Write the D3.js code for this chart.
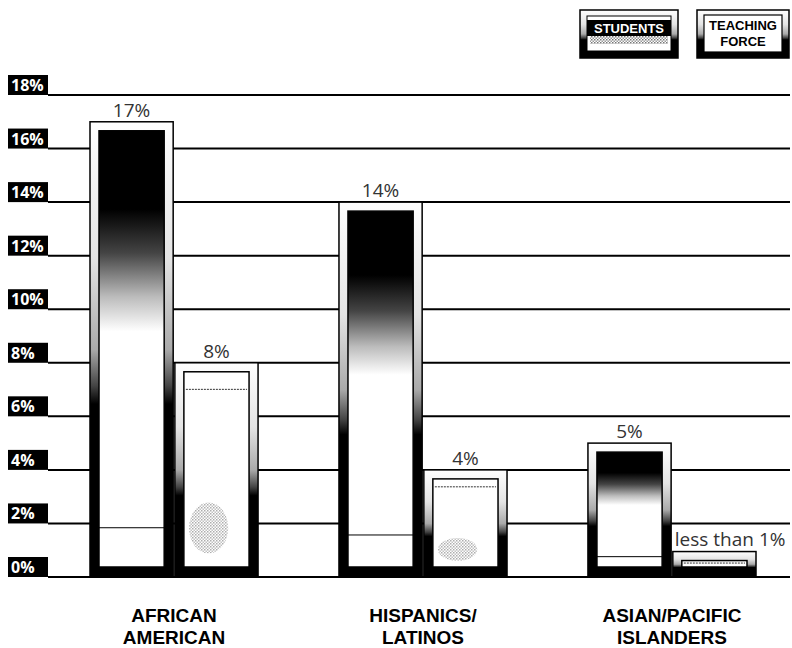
<!DOCTYPE html>
<html>
<head>
<style>
  body { margin: 0; background: #fff; }
  svg { display: block; }
  text { font-family: "Open Sans", "DejaVu Sans", sans-serif; }
</style>
</head>
<body>
<svg></svg>
<script src="https://cdnjs.cloudflare.com/ajax/libs/d3/7.8.5/d3.min.js"></script>
<script>
// data
const categories = [["AFRICAN", "AMERICAN"], ["HISPANICS/", "LATINOS"], ["ASIAN/PACIFIC", "ISLANDERS"]];
const studentValues = [17, 14, 5];
const teacherValues = [8, 4, 0.95];
const studentLabels = ["17%", "14%", "5%"];
const teacherLabels = ["8%", "4%", "less than 1%"];
const tickValues = [0, 2, 4, 6, 8, 10, 12, 14, 16, 18];
const series = ["students", "teachers"];

const width = 792, height = 648;
const svg = d3.select("svg").attr("width", width).attr("height", height);
const boldFont = "'Liberation Sans', Arial, sans-serif";

const y = d3.scaleLinear().domain([0, 18]).range([577, 95]);
const x = d3.scaleBand().domain(d3.range(categories.length)).range([90, 756]).paddingInner(0.325).paddingOuter(0);
const xs = d3.scaleBand().domain(series).range([0, x.bandwidth()]).paddingInner(0.02);

const defs = svg.append("defs");

function grad(id, stops) {
  const g = defs.append("linearGradient").attr("id", id)
    .attr("x1", 0).attr("y1", 0).attr("x2", 0).attr("y2", 1);
  stops.forEach(s => g.append("stop").attr("offset", s[0]).attr("stop-color", s[1]));
}
grad("frame", [[0, "#fff"], [0.3, "#e4e4e4"], [0.5, "#aaa"], [0.58, "#444"], [0.62, "#000"], [1, "#000"]]);
grad("studentInner", [[0, "#000"], [0.18, "#000"], [0.28, "#444"], [0.38, "#bbb"], [0.46, "#fff"], [1, "#fff"]]);

// speckle pattern for the grey blobs
const pat = defs.append("pattern").attr("id", "speckle")
  .attr("width", 3).attr("height", 3).attr("patternUnits", "userSpaceOnUse");
pat.append("rect").attr("width", 1.5).attr("height", 1.5).attr("fill", "#777");
pat.append("rect").attr("x", 1.5).attr("y", 1.5).attr("width", 1.5).attr("height", 1.5).attr("fill", "#999");

// grid lines and tick boxes
const grid = svg.append("g");
grid.selectAll("line").data(tickValues).join("line")
  .attr("x1", 48).attr("x2", 790)
  .attr("y1", d => y(d)).attr("y2", d => y(d))
  .attr("stroke", "#000").attr("stroke-width", 2);
grid.selectAll("rect").data(tickValues).join("rect")
  .attr("x", 8).attr("width", 40)
  .attr("y", d => y(d) - 20).attr("height", 20)
  .attr("fill", "#000");
grid.selectAll("text").data(tickValues).join("text")
  .attr("x", 11).attr("y", d => y(d) - 4)
  .attr("fill", "#fff").attr("font-size", 16).attr("font-weight", 700)
  .text(d => d + "%");

// bars
function drawBar(g, x0, w, value, kind) {
  const top = y(value), bottom = y(0);
  const h = bottom - top;
  g.append("rect").attr("x", x0).attr("y", top).attr("width", w).attr("height", h)
    .attr("fill", "url(#frame)").attr("stroke", "#000").attr("stroke-width", 1.5);
  const ix = x0 + 9, iw = w - 18, iy = top + 9, ih = Math.max(h - 19, 3);
  g.append("rect").attr("x", ix).attr("y", iy).attr("width", iw).attr("height", ih)
    .attr("fill", kind === "students" ? "url(#studentInner)" : "#fff")
    .attr("stroke", "#000").attr("stroke-width", 1.5);
  if (kind === "students") {
    const ly = iy + ih - ih * 0.09;
    g.append("line").attr("x1", ix).attr("x2", ix + iw).attr("y1", ly).attr("y2", ly)
      .attr("stroke", "#000").attr("stroke-width", 1);
  } else {
    const ly = iy + Math.max(ih * 0.09, 2.5);
    g.append("line").attr("x1", ix + 2).attr("x2", ix + iw - 2).attr("y1", ly).attr("y2", ly)
      .attr("stroke", "#333").attr("stroke-width", 1).attr("stroke-dasharray", "2,1");
    if (ih > 60) {
      g.append("ellipse").attr("cx", ix + iw * 0.38).attr("cy", iy + ih * 0.8)
        .attr("rx", iw * 0.3).attr("ry", ih * 0.13)
        .attr("fill", "url(#speckle)").attr("opacity", 0.6);
    }
  }
}

const groups = svg.append("g").selectAll("g").data(categories).join("g");
groups.each(function (d, i) {
  const g = d3.select(this);
  const vals = { students: studentValues[i], teachers: teacherValues[i] };
  const labs = { students: studentLabels[i], teachers: teacherLabels[i] };
  series.forEach(s => {
    const x0 = x(i) + xs(s);
    drawBar(g, x0, xs.bandwidth(), vals[s], s);
    const long = labs[s].length > 4;
    g.append("text")
      .attr("x", long ? x0 + 2 : x0 + xs.bandwidth() / 2)
      .attr("y", y(vals[s]) - (long ? 6 : 5))
      .attr("text-anchor", long ? "start" : "middle")
      .attr("font-size", 19)
      .attr("fill", "#333")
      .text(labs[s]);
  });
  d.forEach((t, k) => {
    g.append("text")
      .attr("x", x(i) + x.bandwidth() / 2)
      .attr("y", 622 + k * 21.5)
      .attr("text-anchor", "middle")
      .style("font-family", boldFont)
      .attr("font-size", 19).attr("font-weight", 700)
      .text(t);
  });
});

// legend
const leg = svg.append("g");
// students key
leg.append("rect").attr("x", 580).attr("y", 10).attr("width", 98).attr("height", 48)
  .attr("fill", "url(#frame)").attr("stroke", "#000").attr("stroke-width", 1.5);
leg.append("rect").attr("x", 587).attr("y", 16).attr("width", 84).attr("height", 35)
  .attr("fill", "#fff").attr("stroke", "#000").attr("stroke-width", 1);
leg.append("rect").attr("x", 587).attr("y", 20).attr("width", 84).attr("height", 16).attr("fill", "#000");
leg.append("rect").attr("x", 590).attr("y", 36).attr("width", 78).attr("height", 8)
  .attr("fill", "url(#speckle)");
leg.append("text").attr("x", 629).attr("y", 33).attr("text-anchor", "middle")
  .style("font-family", boldFont)
  .attr("font-size", 13).attr("font-weight", 700).attr("fill", "#fff").text("STUDENTS");
// teaching force key
leg.append("rect").attr("x", 697).attr("y", 10).attr("width", 92).attr("height", 48)
  .attr("fill", "url(#frame)").attr("stroke", "#000").attr("stroke-width", 1.5);
leg.append("rect").attr("x", 704).attr("y", 15).attr("width", 78).attr("height", 37)
  .attr("fill", "#fff").attr("stroke", "#000").attr("stroke-width", 1.2);
leg.append("text").attr("x", 743).attr("y", 30).attr("text-anchor", "middle")
  .style("font-family", boldFont)
  .attr("font-size", 13).attr("font-weight", 700).text("TEACHING");
leg.append("text").attr("x", 743).attr("y", 45.5).attr("text-anchor", "middle")
  .style("font-family", boldFont)
  .attr("font-size", 13).attr("font-weight", 700).text("FORCE");
</script>
</body>
</html>
